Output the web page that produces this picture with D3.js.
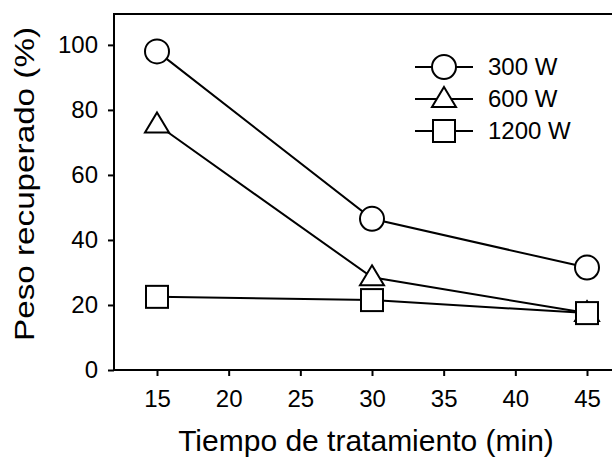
<!DOCTYPE html>
<html>
<head>
<meta charset="utf-8">
<script src="https://cdn.jsdelivr.net/npm/d3@7"></script>
<style>
  body { margin: 0; background: #fff; }
  svg { display: block; }
  text { font-family: "Liberation Sans", Arial, sans-serif; fill: #000; }
</style>
</head>
<body>
<svg id="chart" width="612" height="463"></svg>
<script>
// data
var tiempos = [15, 30, 45];
var series_names = ["300 W", "600 W", "1200 W"];
var series_symbols = ["circle", "triangle", "square"];
var peso_300 = [98, 46.5, 31.5];
var peso_600 = [75.5, 28.5, 17.5];
var peso_1200 = [22.5, 21.5, 17.5];
var x_ticks = [15, 20, 25, 30, 35, 40, 45];
var y_ticks = [0, 20, 40, 60, 80, 100];

var all_series = [peso_300, peso_600, peso_1200];

var svg = d3.select("#chart");
var plotLeft = 114, plotTop = 14, plotBottom = 370, plotRight = 630;

var x = d3.scaleLinear().domain([12, 48]).range([plotLeft, plotRight]);
var y = d3.scaleLinear().domain([0, 109.5]).range([plotBottom, plotTop]);

// frame
svg.append("rect")
    .attr("x", plotLeft).attr("y", plotTop)
    .attr("width", plotRight - plotLeft).attr("height", plotBottom - plotTop)
    .attr("fill", "none").attr("stroke", "black").attr("stroke-width", 2);

// axes
var xAxis = svg.append("g")
    .attr("transform", "translate(0," + plotBottom + ")")
    .call(d3.axisBottom(x).tickValues(x_ticks).tickSize(6).tickPadding(14).tickFormat(d3.format("d")));
var yAxis = svg.append("g")
    .attr("transform", "translate(" + plotLeft + ",0)")
    .call(d3.axisLeft(y).tickValues(y_ticks).tickSize(6).tickPadding(10).tickFormat(d3.format("d")));

[xAxis, yAxis].forEach(function(ax) {
    ax.select(".domain").remove();
    ax.selectAll("line").attr("stroke", "black").attr("stroke-width", 2);
    ax.selectAll("text").style("font-size", "24px").attr("fill", "black");
});
xAxis.selectAll("text").attr("dy", "0.71em");

// axis titles
svg.append("text")
    .attr("x", 366).attr("y", 451)
    .attr("text-anchor", "middle")
    .style("font-size", "30px")
    .text("Tiempo de tratamiento (min)");
svg.append("text")
    .attr("transform", "translate(34,184) rotate(-90)")
    .attr("text-anchor", "middle")
    .style("font-size", "28px")
    .attr("textLength", 314)
    .attr("lengthAdjust", "spacingAndGlyphs")
    .text("Peso recuperado (%)");

function drawSymbol(g, kind, cx, cy) {
    if (kind == "circle") {
        g.append("circle").attr("cx", cx).attr("cy", cy).attr("r", 12);
    } else if (kind == "triangle") {
        g.append("path")
            .attr("d", "M" + cx + "," + (cy - 12) + "L" + (cx + 12) + "," + (cy + 8) + "L" + (cx - 12) + "," + (cy + 8) + "Z");
    } else {
        g.append("rect").attr("x", cx - 11).attr("y", cy - 11).attr("width", 22).attr("height", 22);
    }
}

var line = d3.line()
    .x(function(d, i) { return x(tiempos[i]); })
    .y(function(d) { return y(d); });

// lines first, markers on top
all_series.forEach(function(vals) {
    svg.append("path")
        .attr("d", line(vals))
        .attr("fill", "none").attr("stroke", "black").attr("stroke-width", 2);
});
all_series.forEach(function(vals, s) {
    var g = svg.append("g").attr("fill", "white").attr("stroke", "black").attr("stroke-width", 2);
    vals.forEach(function(v, i) {
        drawSymbol(g, series_symbols[s], x(tiempos[i]), y(v));
    });
});

// legend
var legend = svg.append("g");
series_names.forEach(function(name, i) {
    var ly = 67 + i * 32;
    legend.append("line")
        .attr("x1", 415).attr("x2", 473).attr("y1", ly).attr("y2", ly)
        .attr("stroke", "black").attr("stroke-width", 2);
    var g = legend.append("g").attr("fill", "white").attr("stroke", "black").attr("stroke-width", 2);
    drawSymbol(g, series_symbols[i], 444, ly);
    legend.append("text")
        .attr("x", 488).attr("y", ly).attr("dy", "0.35em")
        .style("font-size", "24px")
        .text(name);
});
</script>
</body>
</html>
